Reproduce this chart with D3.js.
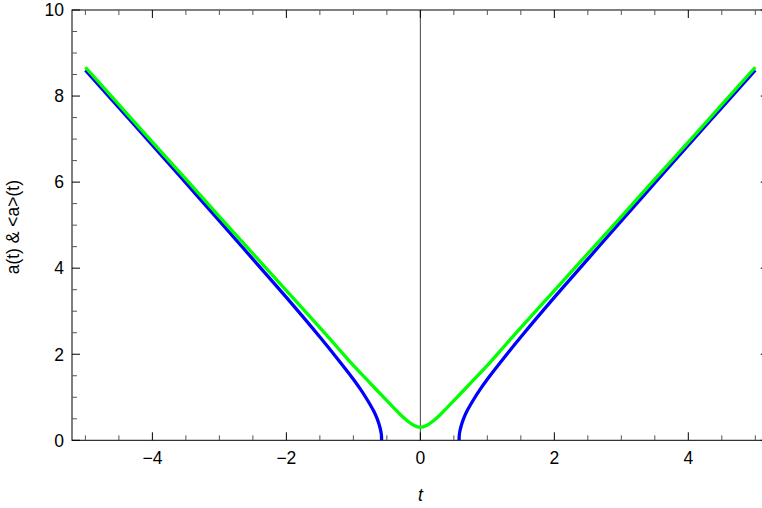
<!DOCTYPE html>
<html>
<head>
<meta charset="utf-8">
<script src="https://cdn.jsdelivr.net/npm/d3@7"></script>
<style>
  body { margin: 0; background: #fff; }
  text { font-family: "Liberation Sans", Arial, sans-serif; fill: #000; }
</style>
</head>
<body>
<script>
// values
const tBlueLeft = [-5, -4.5, -4, -3.5, -3, -2.5, -2, -1.5, -1.25, -1, -0.9, -0.8, -0.7, -0.65, -0.62, -0.6, -0.59, -0.582, -0.578];
const aBlueLeft = [8.6, 7.73, 6.86, 5.98, 5.1, 4.21, 3.32, 2.4, 1.92, 1.42, 1.2, 0.96, 0.69, 0.52, 0.39, 0.28, 0.21, 0.13, 0];
const tBlueRight = [0.578, 0.582, 0.59, 0.6, 0.62, 0.65, 0.7, 0.8, 0.9, 1, 1.25, 1.5, 2, 2.5, 3, 3.5, 4, 4.5, 5];
const aBlueRight = [0, 0.13, 0.21, 0.28, 0.39, 0.52, 0.69, 0.96, 1.2, 1.42, 1.92, 2.4, 3.32, 4.21, 5.1, 5.98, 6.86, 7.73, 8.6];
const tGreen = [-5, -4.5, -4, -3.5, -3, -2.5, -2, -1.5, -1.25, -1, -0.75, -0.5, -0.4, -0.3, -0.2, -0.1, 0, 0.1, 0.2, 0.3, 0.4, 0.5, 0.75, 1, 1.25, 1.5, 2, 2.5, 3, 3.5, 4, 4.5, 5];
const aGreen = [8.67, 7.8, 6.93, 6.07, 5.2, 4.34, 3.48, 2.62, 2.18, 1.74, 1.33, 0.92, 0.76, 0.6, 0.46, 0.35, 0.3, 0.35, 0.46, 0.6, 0.76, 0.92, 1.33, 1.74, 2.18, 2.62, 3.48, 4.34, 5.2, 6.07, 6.93, 7.8, 8.67];

const xMajor = [-4, -2, 0, 2, 4];
const xMinor = [-5, -4.5, -3.5, -3, -2.5, -1.5, -1, -0.5, 0.5, 1, 1.5, 2.5, 3, 3.5, 4.5, 5];
const yMajor = [0, 2, 4, 6, 8, 10];
const yMinor = [0.5, 1, 1.5, 2.5, 3, 3.5, 4.5, 5, 5.5, 6.5, 7, 7.5, 8.5, 9, 9.5];

const width = 762, height = 508;
const x = d3.scaleLinear().domain([-5.2, 5.2]).range([72, 768.7]);
const y = d3.scaleLinear().domain([0, 10]).range([440.3, 10]);

const svg = d3.select("body").append("svg").attr("width", width).attr("height", height);

svg.append("clipPath").attr("id", "plotclip")
  .append("rect").attr("x", x(-5.2)).attr("y", y(10)).attr("width", x(5.2) - x(-5.2)).attr("height", y(0) - y(10));

// vertical axis at t = 0
svg.append("line")
  .attr("x1", x(0)).attr("x2", x(0)).attr("y1", y(10)).attr("y2", y(0))
  .attr("stroke", "#444").attr("stroke-width", 1);

// curves
const line = d3.line().x(d => x(d[0])).y(d => y(d[1])).curve(d3.curveCatmullRom.alpha(0.5));
const plot = svg.append("g").attr("clip-path", "url(#plotclip)");
plot.append("path").datum(d3.zip(tBlueLeft, aBlueLeft))
  .attr("d", line).attr("fill", "none").attr("stroke", "#0000ff").attr("stroke-width", 3.3);
plot.append("path").datum(d3.zip(tBlueRight, aBlueRight))
  .attr("d", line).attr("fill", "none").attr("stroke", "#0000ff").attr("stroke-width", 3.3);
plot.append("path").datum(d3.zip(tGreen, aGreen))
  .attr("d", line).attr("fill", "none").attr("stroke", "#00ff00").attr("stroke-width", 3.3);

// frame
const frame = svg.append("g");
frame.append("rect")
  .attr("x", x(-5.2)).attr("y", y(10)).attr("width", x(5.2) - x(-5.2)).attr("height", y(0) - y(10))
  .attr("fill", "none").attr("stroke", "#000").attr("stroke-width", 1);

function xTicks(vals, len, col) {
  frame.selectAll(null).data(vals).join("line")
    .attr("x1", d => x(d)).attr("x2", d => x(d)).attr("y1", y(0)).attr("y2", y(0) - len)
    .attr("stroke", col).attr("stroke-width", 1);
  frame.selectAll(null).data(vals).join("line")
    .attr("x1", d => x(d)).attr("x2", d => x(d)).attr("y1", y(10)).attr("y2", y(10) + len)
    .attr("stroke", col).attr("stroke-width", 1);
}
function yTicks(vals, len, col) {
  frame.selectAll(null).data(vals).join("line")
    .attr("y1", d => y(d)).attr("y2", d => y(d)).attr("x1", x(-5.2)).attr("x2", x(-5.2) + len)
    .attr("stroke", col).attr("stroke-width", 1);
  frame.selectAll(null).data(vals).join("line")
    .attr("y1", d => y(d)).attr("y2", d => y(d)).attr("x1", x(5.2)).attr("x2", x(5.2) - len)
    .attr("stroke", col).attr("stroke-width", 1);
}
xTicks(xMajor, 8, "#000");
xTicks(xMinor, 5, "#555");
yTicks(yMajor, 8, "#000");
yTicks(yMinor, 5, "#555");

const fmt = d => d < 0 ? "\u2212" + Math.abs(d) : String(d);

svg.selectAll(".xl").data(xMajor).join("text")
  .attr("x", d => x(d)).attr("y", 464)
  .attr("text-anchor", "middle").attr("font-size", 17.5)
  .text(fmt);

svg.selectAll(".yl").data(yMajor).join("text")
  .attr("x", 64).attr("y", d => y(d) + 6.3)
  .attr("text-anchor", "end").attr("font-size", 17.5)
  .text(fmt);

svg.append("text")
  .attr("x", x(0)).attr("y", 501)
  .attr("text-anchor", "middle").attr("font-size", 17.5).attr("font-style", "italic")
  .text("t");

svg.append("text")
  .attr("transform", `translate(19,${(y(0) + y(10)) / 2 + 2}) rotate(-90)`)
  .attr("text-anchor", "middle").attr("font-size", 17.5)
  .text("a(t) & <a>(t)");
</script>
</body>
</html>
